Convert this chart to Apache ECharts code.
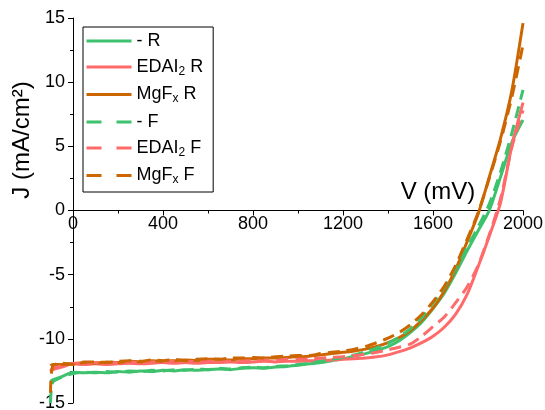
<!DOCTYPE html>
<html>
<head>
<meta charset="utf-8">
<script src="https://cdn.jsdelivr.net/npm/echarts@6/dist/echarts.min.js"></script>
<style>html,body{margin:0;padding:0;background:#fff}#c{width:545px;height:410px}</style>
</head>
<body>
<div id="c"></div>
<script>
const V = [-100,-90,-50,0,50,100,150,200,250,300,350,400,450,500,550,600,650,700,750,800,850,900,950,1000,1050,1100,1150,1200,1250,1300,1350,1400,1450,1500,1550,1600,1650,1700,1750,1800,1850,1900,1950,2000];
const greenR = [-13.3,-13.2,-12.95,-12.6,-12.65,-12.6,-12.65,-12.55,-12.6,-12.5,-12.55,-12.45,-12.5,-12.4,-12.45,-12.4,-12.35,-12.4,-12.3,-12.25,-12.3,-12.2,-12.15,-12.05,-11.95,-11.85,-11.7,-11.55,-11.35,-11.15,-10.9,-10.6,-10.15,-9.5,-8.7,-7.65,-6.45,-4.9,-3.2,-1.6,0,2.6,5.3,7.05];
const redR = [-12.6,-12.4,-12.2,-11.95,-12.0,-11.95,-12.0,-11.95,-11.9,-11.95,-11.9,-11.85,-11.9,-11.85,-11.9,-11.85,-11.85,-11.8,-11.85,-11.8,-11.75,-11.8,-11.75,-11.75,-11.7,-11.7,-11.65,-11.6,-11.55,-11.5,-11.4,-11.25,-11.0,-10.7,-10.3,-9.8,-9.1,-8.1,-6.6,-4.4,-2.0,0.6,5.0,8.4];
const orangeR = [-12.1,-12.0,-12.0,-11.95,-11.85,-11.9,-11.8,-11.85,-11.75,-11.8,-11.7,-11.75,-11.7,-11.65,-11.7,-11.6,-11.6,-11.65,-11.55,-11.55,-11.5,-11.5,-11.45,-11.4,-11.35,-11.25,-11.15,-11.05,-10.95,-10.8,-10.6,-10.3,-9.9,-9.35,-8.55,-7.6,-6.3,-4.6,-2.5,-0.3,2.6,5.6,9.3,14.6];
const greenF = [-15.0,-13.4,-13.0,-12.7,-12.6,-12.65,-12.55,-12.6,-12.5,-12.55,-12.45,-12.5,-12.4,-12.45,-12.35,-12.4,-12.3,-12.35,-12.25,-12.2,-12.25,-12.15,-12.1,-12.0,-11.9,-11.75,-11.6,-11.45,-11.25,-11.0,-10.7,-10.35,-9.85,-9.2,-8.35,-7.2,-6.0,-4.5,-2.9,-1.3,0.5,3.0,6.0,9.4];
const redF = [-12.5,-12.3,-12.1,-11.9,-11.95,-11.85,-11.9,-11.85,-11.8,-11.85,-11.8,-11.8,-11.75,-11.8,-11.75,-11.75,-11.7,-11.75,-11.7,-11.7,-11.65,-11.65,-11.6,-11.6,-11.55,-11.5,-11.45,-11.4,-11.3,-11.2,-11.05,-10.85,-10.65,-10.4,-9.8,-9.05,-8.3,-7.2,-6.0,-4.3,-1.9,0.9,4.9,7.8];
const orangeF = [-14.2,-12.1,-11.9,-12.0,-11.8,-11.8,-11.85,-11.75,-11.7,-11.75,-11.65,-11.7,-11.6,-11.7,-11.6,-11.55,-11.6,-11.5,-11.5,-11.45,-11.5,-11.4,-11.35,-11.3,-11.3,-11.15,-11.05,-10.95,-10.8,-10.6,-10.3,-9.95,-9.5,-8.9,-8.1,-7.1,-5.9,-4.3,-2.3,-0.2,2.5,5.4,8.8,12.9];

const seriesNames = ['- R','EDAI2 R','MgFx R','- F','EDAI2 F','MgFx F'];
const seriesData = [greenR, redR, orangeR, greenF, redF, orangeF];
const colors = ['#3DC26E','#FF6A6A','#CC6600','#3DC26E','#FF6A6A','#CC6600'];
const labelRich = {'- R':'- R','EDAI2 R':'EDAI{s|2} R','MgFx R':'MgF{s|x} R','- F':'- F','EDAI2 F':'EDAI{s|2} F','MgFx F':'MgF{s|x} F'};

const FONT = 'Liberation Sans, Arial, sans-serif';
const chart = echarts.init(document.getElementById('c'), null, {renderer:'canvas'});
const gridPos = {right:22,top:18,bottom:7,containLabel:false,outerBoundsMode:'none'};
chart.setOption({
  animation:false,
  backgroundColor:'#fff',
  grid:[Object.assign({left:73},gridPos), Object.assign({left:50.5},gridPos)],
  xAxis:[{type:'value',gridIndex:0,min:0,max:2000,interval:400,position:'bottom',offset:-192.5,
    axisLine:{onZero:false,lineStyle:{color:'#000',width:1}},
    axisTick:{length:5,lineStyle:{color:'#000'}},
    minorTick:{show:true,splitNumber:2,length:3,lineStyle:{color:'#000'}},
    splitLine:{show:false},
    axisLabel:{color:'#000',fontSize:18,fontFamily:FONT,margin:5,showMinLabel:true,showMaxLabel:true,formatter:v=>String(v)}
  },{type:'value',gridIndex:1,min:-100,max:2000,show:false,splitLine:{show:false}}],
  yAxis:[{type:'value',gridIndex:0,min:-15,max:15,interval:5,
    axisLine:{show:true,onZero:false,lineStyle:{color:'#000',width:1}},
    axisTick:{show:true,length:5,lineStyle:{color:'#000'}},
    minorTick:{show:true,splitNumber:2,length:3,lineStyle:{color:'#000'}},
    splitLine:{show:false},
    axisLabel:{color:'#000',fontSize:18,fontFamily:FONT,margin:8,formatter:v=>String(v)}
  },{type:'value',gridIndex:1,min:-15,max:15,show:false,splitLine:{show:false}}],
  legend:{
    orient:'vertical',left:83,top:27,
    padding:[5,10,6,2],
    itemWidth:45,itemHeight:14,itemGap:8,
    borderColor:'#000',borderWidth:1,borderRadius:0,backgroundColor:'#fff',
    data:seriesNames.map((n,i)=>({name:n,itemStyle:{opacity:0},lineStyle:{width:3,type:i>=3?[15,15]:'solid'}})),
    formatter:n=>labelRich[n],
    textStyle:{color:'#000',fontSize:18,fontFamily:FONT,
      rich:{s:{fontSize:12,fontFamily:FONT,verticalAlign:'bottom',padding:[9,0,0,0]}}}
  },
  graphic:[
    {type:'text',x:22,y:140,rotation:Math.PI/2,style:{text:'J (mA/cm²)',fill:'#000',font:'24px '+FONT,align:'center',verticalAlign:'middle'}},
    {type:'text',x:438,y:192,style:{text:'V (mV)',fill:'#000',font:'24px '+FONT,align:'center',verticalAlign:'middle'}}
  ],
  series:seriesNames.map((n,i)=>({
    name:n,type:'line',symbol:'none',xAxisIndex:1,yAxisIndex:1,smooth:0.25,
    data:V.map((v,k)=>[v,seriesData[i][k]]),
    lineStyle:{color:colors[i],width:3,type:i>=3?[12,7]:'solid'},
    itemStyle:{color:colors[i]}
  }))
});
</script>
</body>
</html>
